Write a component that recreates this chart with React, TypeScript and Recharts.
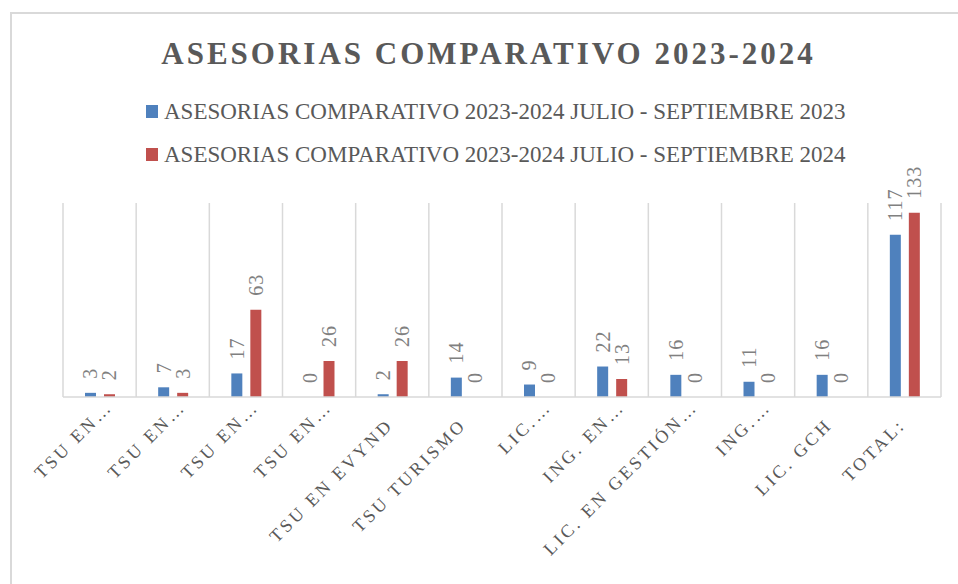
import React from 'react';
import { BarChart, Bar, XAxis, YAxis, CartesianGrid, Legend } from 'recharts';

const categories = [
  'TSU EN…', 'TSU EN…', 'TSU EN…', 'TSU EN…', 'TSU EN EVYND', 'TSU TURISMO',
  'LIC.…', 'ING. EN…', 'LIC. EN GESTIÓN…', 'ING.…', 'LIC. GCH', 'TOTAL:'
];
const values2023 = [3, 7, 17, 0, 2, 14, 9, 22, 16, 11, 16, 117];
const values2024 = [2, 3, 63, 26, 26, 0, 0, 13, 0, 0, 0, 133];
const seriesNames = [
  'ASESORIAS COMPARATIVO 2023-2024 JULIO - SEPTIEMBRE 2023',
  'ASESORIAS COMPARATIVO 2023-2024 JULIO - SEPTIEMBRE 2024'
];
const seriesColors = ['#4f81bd', '#c0504d'];

const data = categories.map((name, i) => ({
  name,
  s2023: values2023[i],
  s2024: values2024[i]
}));

const W = 958;
const H = 584;

const serif = "'Liberation Serif', 'DejaVu Serif', serif";

// truncated labels (ending in …) sit a bit further out, like in the original
const renderTick = (props: any) => {
  const { x, y, payload } = props;
  const cut = String(payload.value).endsWith('…');
  const dx = cut ? 14 : 2;
  const dy = cut ? 3 : 21;
  return (
    <g transform={`translate(${x + dx}, ${y + dy})`}>
      <text
        x={0}
        y={0}
        textAnchor="end"
        transform="rotate(-45)"
        fill="#595959"
        fontSize={18}
        letterSpacing={3}
        fontFamily={serif}
      >
        {payload.value}
      </text>
    </g>
  );
};

const renderValue = (props: any) => {
  const { x, y, width, value } = props;
  const cx = x + width / 2;
  const ty = y - 14;
  return (
    <text
      x={cx}
      y={ty}
      transform={`rotate(-90, ${cx}, ${ty})`}
      textAnchor="start"
      dominantBaseline="central"
      fill="#808080"
      fontSize={20}
      letterSpacing={1}
      fontFamily={serif}
    >
      {value}
    </text>
  );
};

const renderLegend = () => (
  <div style={{ display: 'flex', flexDirection: 'column', alignItems: 'flex-start', paddingLeft: 146 }}>
    {seriesNames.map((n, i) => (
      <div key={i} style={{ display: 'flex', alignItems: 'center', height: 43 }}>
        <span style={{ width: 12, height: 13, background: seriesColors[i], marginRight: 6, flexShrink: 0 }} />
        <span style={{ fontFamily: serif, fontSize: 23, color: '#595959', whiteSpace: 'nowrap' }}>
          {n}
        </span>
      </div>
    ))}
  </div>
);

export default function App() {
  return (
    <div style={{ position: 'absolute', left: 0, top: 0, width: W, height: H, overflow: 'hidden', background: 'white' }}>
      <div style={{ position: 'absolute', left: 10, top: 12, width: 1000, height: 700, border: '2px solid #d9d9d9', boxSizing: 'border-box' }} />
      <div style={{
        position: 'absolute', left: 0, width: 977, top: 36, textAlign: 'center',
        fontFamily: serif, fontWeight: 700, fontSize: 31, letterSpacing: 3, color: '#595959'
      }}>
        ASESORIAS COMPARATIVO 2023-2024
      </div>
      <div style={{ position: 'absolute', left: 0, top: 0 }}>
        <BarChart
          width={W}
          height={H}
          data={data}
          margin={{ top: 203, right: 17, left: 63, bottom: 67 }}
          barSize={11}
          barGap={8}
        >
          <CartesianGrid
            horizontal={false}
            stroke="#d9d9d9"
            strokeWidth={1.5}
            verticalCoordinatesGenerator={({ offset }: any) =>
              Array.from({ length: categories.length + 1 }, (_, i) => offset.left + (i * offset.width) / categories.length)
            }
          />
          <XAxis
            dataKey="name"
            interval={0}
            height={120}
            tickLine={false}
            axisLine={{ stroke: '#d9d9d9', strokeWidth: 1.5 }}
            tick={renderTick}
          />
          <YAxis hide domain={[0, 140]} />
          <Legend
            verticalAlign="middle"
            layout="horizontal"
            content={renderLegend}
            wrapperStyle={{ top: 90, left: 0, width: W }}
          />
          <Bar dataKey="s2023" name={seriesNames[0]} fill={seriesColors[0]} minPointSize={0.01} isAnimationActive={false} label={renderValue} />
          <Bar dataKey="s2024" name={seriesNames[1]} fill={seriesColors[1]} minPointSize={0.01} isAnimationActive={false} label={renderValue} />
        </BarChart>
      </div>
    </div>
  );
}
